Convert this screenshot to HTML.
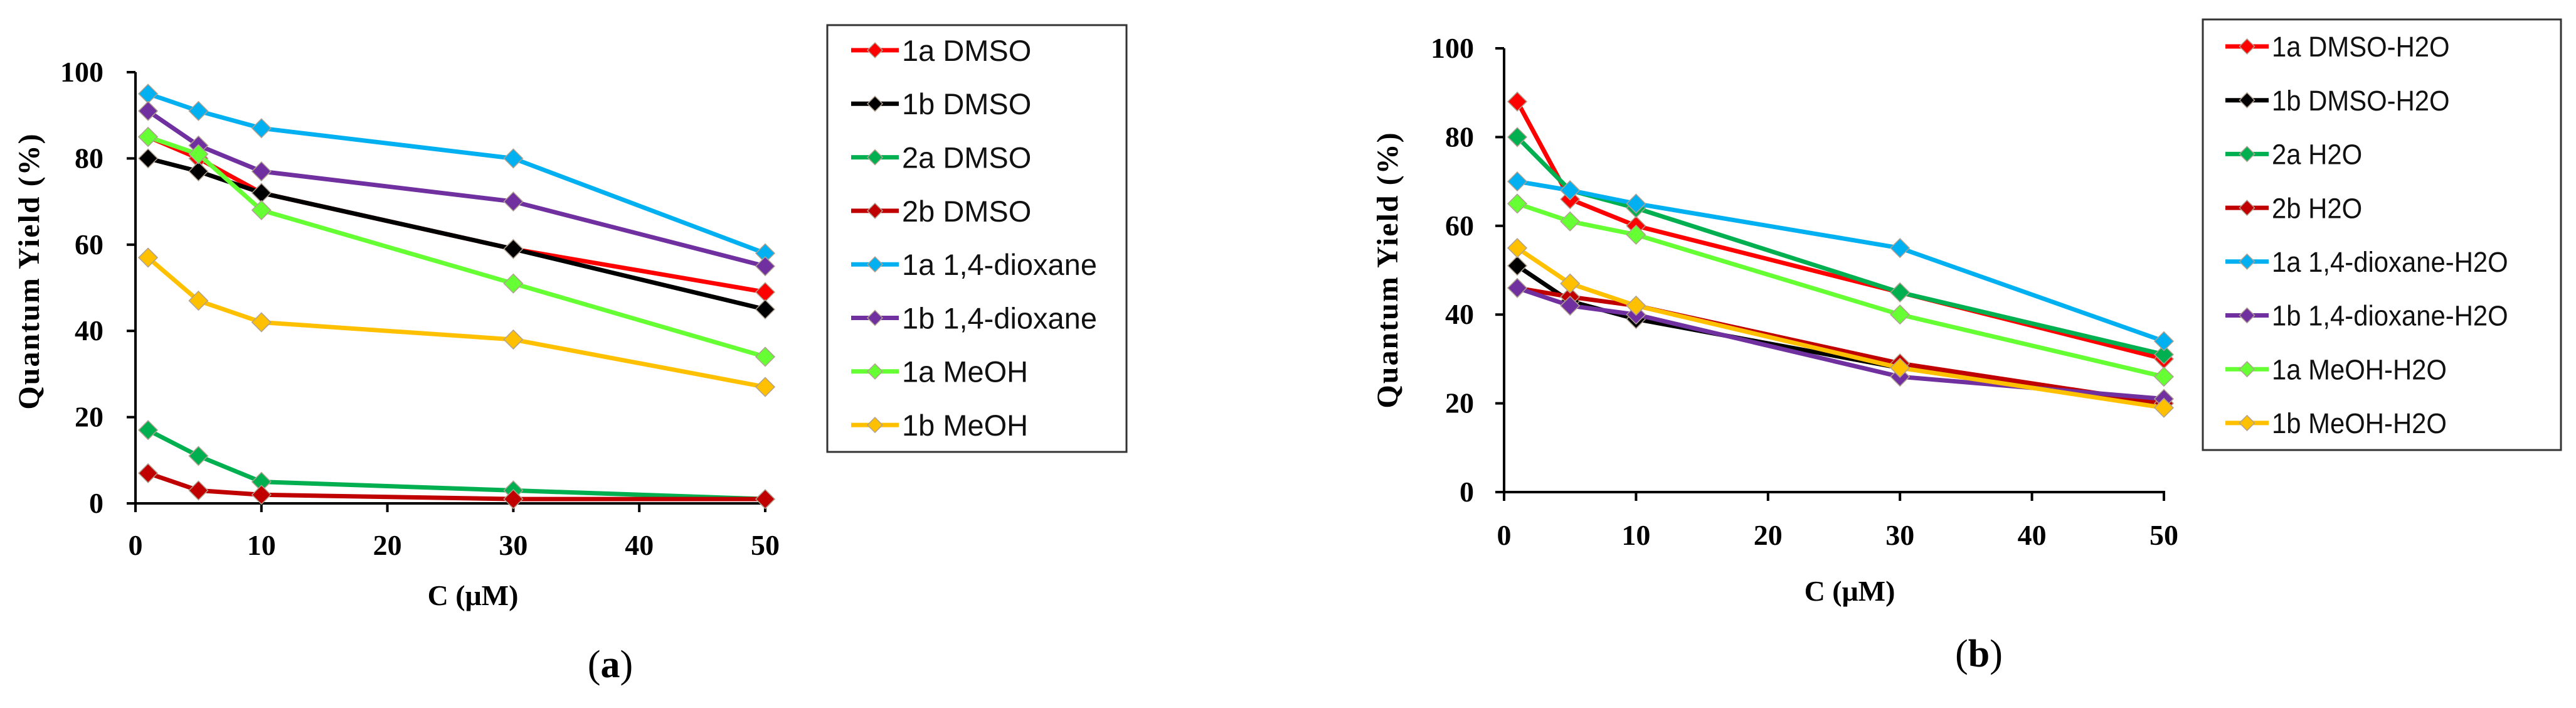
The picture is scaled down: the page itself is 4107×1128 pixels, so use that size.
<!DOCTYPE html>
<html><head><meta charset="utf-8"><style>
html,body{margin:0;padding:0;background:#fff;width:4107px;height:1128px;overflow:hidden}
svg{display:block}
</style></head><body>
<svg id="chart" width="4107" height="1128" viewBox="0 0 4107 1128" xmlns="http://www.w3.org/2000/svg"></svg>
<script>
const xValues = [1, 5, 10, 30, 50];
const xTicks = [0, 10, 20, 30, 40, 50];
const yTicks = [0, 20, 40, 60, 80, 100];
const colors = ["#ff0000", "#000000", "#00b050", "#c00000", "#00b0f0", "#7030a0", "#66ff33", "#ffc000"];
const namesA = ["1a DMSO", "1b DMSO", "2a DMSO", "2b DMSO", "1a 1,4-dioxane", "1b 1,4-dioxane", "1a MeOH", "1b MeOH"];
const a_1aDMSO = [85, 80, 72, 59, 49];
const a_1bDMSO = [80, 77, 72, 59, 45];
const a_2aDMSO = [17, 11, 5, 3, 1];
const a_2bDMSO = [7, 3, 2, 1, 1];
const a_1aDiox = [95, 91, 87, 80, 58];
const a_1bDiox = [91, 83, 77, 70, 55];
const a_1aMeOH = [85, 81, 68, 51, 34];
const a_1bMeOH = [57, 47, 42, 38, 27];
const namesB = ["1a DMSO-H2O", "1b DMSO-H2O", "2a H2O", "2b H2O", "1a 1,4-dioxane-H2O", "1b 1,4-dioxane-H2O", "1a MeOH-H2O", "1b MeOH-H2O"];
const b_1aDMSO = [88, 66, 60, 45, 30];
const b_1bDMSO = [51, 43, 39, 28, 20];
const b_2aH2O = [80, 68, 64, 45, 31];
const b_2bH2O = [46, 44, 42, 29, 20];
const b_1aDiox = [70, 68, 65, 55, 34];
const b_1bDiox = [46, 42, 40, 26, 21];
const b_1aMeOH = [65, 61, 58, 40, 26];
const b_1bMeOH = [55, 47, 42, 28, 19];

const NS = "http://www.w3.org/2000/svg";
const svg = document.getElementById("chart");
function mk(tag, attrs, parent, text) {
  const e = document.createElementNS(NS, tag);
  for (const k in attrs) e.setAttribute(k, attrs[k]);
  if (text !== undefined) e.textContent = text;
  (parent || svg).appendChild(e);
  return e;
}
function diamond(cx, cy, r) {
  return `${cx},${cy-r} ${cx+r},${cy} ${cx},${cy+r} ${cx-r},${cy}`;
}

function panel(cfg, names, series) {
  const g = mk("g", {});
  
  
  const sx = v => cfg.x0 + (v - 0) / 50 * (cfg.x1 - cfg.x0);
  const sy = v => cfg.y0 - v / 100 * (cfg.y0 - cfg.y1);
  const serif = "'Liberation Serif', serif";
  const ax = mk("g", {}, g);
  
  
  mk("line", {x1: cfg.x0, y1: cfg.y0, x2: cfg.x1 + 2, y2: cfg.y0, stroke: "#000", "stroke-width": 4}, ax);
  mk("line", {x1: cfg.x0, y1: cfg.y0 + 2, x2: cfg.x0, y2: cfg.y1, stroke: "#000", "stroke-width": 4}, ax);
  yTicks.forEach(t => {
    mk("line", {x1: cfg.x0 - 14, y1: sy(t), x2: cfg.x0, y2: sy(t), stroke: "#000", "stroke-width": 4}, ax);
    const tl = mk("text", {x: cfg.ylabX, y: sy(t) + 15, "text-anchor": "end", "font-family": serif, "font-weight": "bold", "font-size": cfg.tickFs}, ax, String(t));
    
    
  });
  xTicks.forEach(t => {
    mk("line", {x1: sx(t), y1: cfg.y0, x2: sx(t), y2: cfg.y0 + 14, stroke: "#000", "stroke-width": 4}, ax);
    const tl = mk("text", {x: sx(t), y: cfg.xlabY, "text-anchor": "middle", "font-family": serif, "font-weight": "bold", "font-size": cfg.tickFs}, ax, String(t));
    
    
  });
  const xt = mk("text", {x: cfg.xtX, y: cfg.xtY, "text-anchor": "middle", "font-family": serif, "font-weight": "bold", "font-size": cfg.tickFs}, g, "C (μM)");
  
  
  const yt = mk("text", {x: 0, y: 0, "text-anchor": "middle", "font-family": serif, "font-weight": "bold", "font-size": cfg.ytFs, "letter-spacing": 2, transform: `translate(${cfg.ytX},${cfg.ytY}) rotate(-90)`}, g, "Quantum  Yield (%)");
  
  
  series.forEach((vals, i) => {
    const sg = mk("g", {}, g);
    
    
    const pts = vals.map((v, j) => sx(xValues[j]) + "," + sy(v)).join(" ");
    mk("polyline", {points: pts, fill: "none", stroke: colors[i], "stroke-width": 7, "stroke-linejoin": "round"}, sg);
    vals.forEach((v, j) => {
      const m = mk("polygon", {points: diamond(sx(xValues[j]), sy(v), 15), fill: colors[i], stroke: "#b0a090", "stroke-width": 1.5}, sg);
      
      
    });
  });
  const lg = mk("g", {}, g);
  
  
  mk("rect", {x: cfg.lx0, y: cfg.ly0, width: cfg.lx1 - cfg.lx0, height: cfg.ly1 - cfg.ly0, fill: "#fff", stroke: "#333", "stroke-width": 3}, lg);
  names.forEach((n, i) => {
    const y = cfg.ly[0] + i * cfg.lstep;
    const e = mk("g", {}, lg);
    
    
    mk("line", {x1: cfg.llx0, y1: y, x2: cfg.llx1, y2: y, stroke: colors[i], "stroke-width": 7}, e);
    mk("polygon", {points: diamond((cfg.llx0 + cfg.llx1) / 2, y, 12), fill: colors[i], stroke: "#b0a090", "stroke-width": 1.5}, e);
    mk("text", {x: cfg.ltx, y: y + cfg.lfs * 0.36, "font-family": "'Liberation Sans', sans-serif", "font-size": cfg.lfs, fill: "#111", transform: cfg.lcond ? `translate(${cfg.ltx},0) scale(${cfg.lcond},1) translate(${-cfg.ltx},0)` : ""}, e, n);
  });
  const pl = mk("text", {x: cfg.plX, y: cfg.plY, "text-anchor": "middle", "font-family": serif, "font-size": 62}, g);
  
  
  mk("tspan", {}, pl, "(");
  mk("tspan", {"font-weight": "bold"}, pl, cfg.letter);
  mk("tspan", {}, pl, ")");
}

panel({id: "panel-a", letter: "a", x0: 216, x1: 1220, y0: 802, y1: 115, ylabX: 165, xlabY: 884, tickFs: 46,
  xtX: 754, xtY: 964, ytX: 62, ytY: 432, ytFs: 48, lx0: 1319, lx1: 1796, ly0: 40, ly1: 720,
  ly: [80], lstep: 85.3, llx0: 1357, llx1: 1433, ltx: 1438, lfs: 47, plX: 973, plY: 1079},
  namesA, [a_1aDMSO, a_1bDMSO, a_2aDMSO, a_2bDMSO, a_1aDiox, a_1bDiox, a_1aMeOH, a_1bMeOH]);
panel({id: "panel-b", letter: "b", x0: 2398, x1: 3450, y0: 784, y1: 77, ylabX: 2350, xlabY: 868, tickFs: 46,
  xtX: 2949, xtY: 957, ytX: 2228, ytY: 430, ytFs: 48, lx0: 3512, lx1: 4083, ly0: 31, ly1: 717,
  ly: [74], lstep: 85.7, llx0: 3548, llx1: 3617, ltx: 3622, lfs: 45, lcond: 0.93, plX: 3155, plY: 1062},
  namesB, [b_1aDMSO, b_1bDMSO, b_2aH2O, b_2bH2O, b_1aDiox, b_1bDiox, b_1aMeOH, b_1bMeOH]);
</script>
</body></html>
